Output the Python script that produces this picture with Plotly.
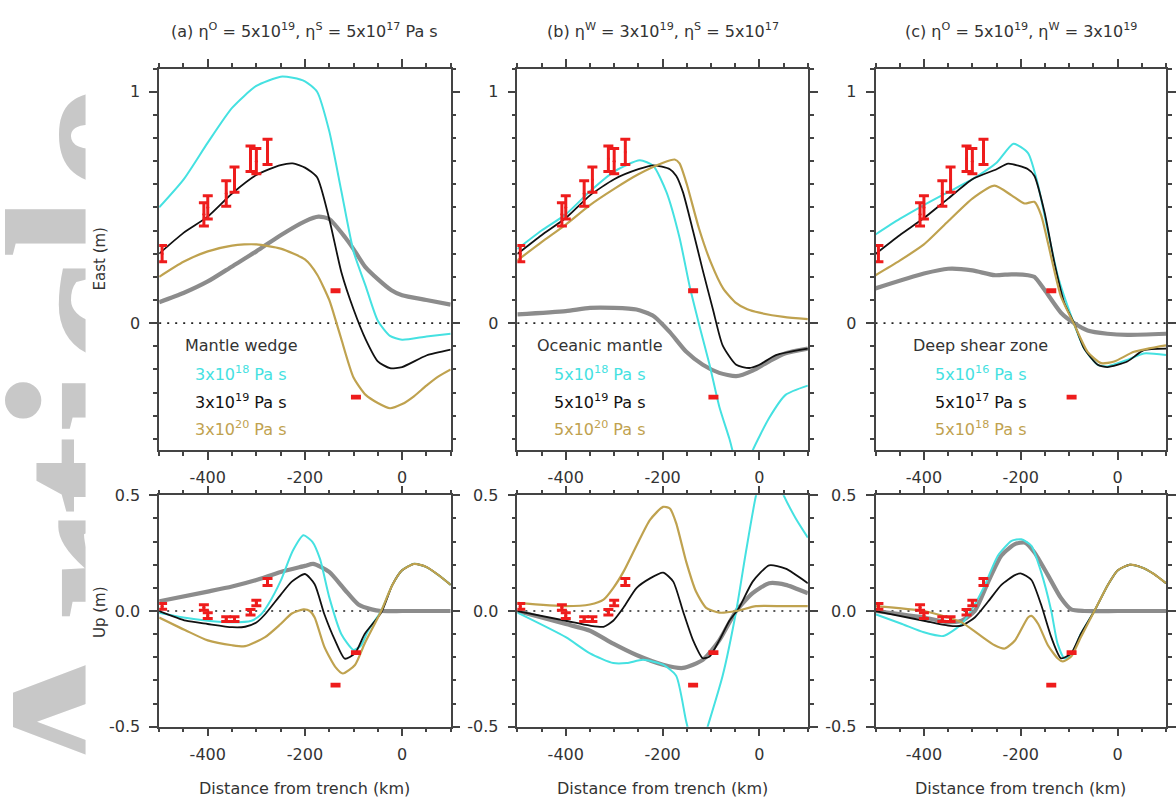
import plotly.graph_objects as go

W, H = 1176, 809

# ---------------- shared GPS observations ----------------
OBS_X        = [-494, -408, -400, -362, -345, -312, -300, -277, -137, -95]
OBS_EAST     = [0.30, 0.47, 0.50, 0.56, 0.62, 0.71, 0.70, 0.74, 0.14, -0.32]
OBS_EAST_ERR = [0.035, 0.05, 0.05, 0.055, 0.055, 0.055, 0.055, 0.055, 0.004, 0.004]
OBS_UP       = [0.02, 0.015, -0.02, -0.035, -0.035, -0.005, 0.035, 0.125, -0.32, -0.18]
OBS_UP_ERR   = [0.012, 0.012, 0.012, 0.01, 0.01, 0.012, 0.012, 0.015, 0.004, 0.004]

# ---------------- (a) mantle wedge : East ----------------
A_E_GREY_X = [-500, -450, -400, -350, -300, -250, -200, -172, -150, -117, -100, -76, -50, -22, 0, 50, 100]
A_E_GREY_Y = [0.09, 0.13, 0.18, 0.245, 0.31, 0.38, 0.44, 0.46, 0.45, 0.37, 0.32, 0.243, 0.19, 0.142, 0.12, 0.10, 0.08]
A_E_CYAN_X = [-500, -450, -400, -350, -300, -250, -225, -200, -175, -150, -125, -100, -75, -50, -25, 0, 50, 100]
A_E_CYAN_Y = [0.50, 0.62, 0.78, 0.93, 1.025, 1.065, 1.06, 1.045, 1.00, 0.83, 0.57, 0.31, 0.16, 0.01, -0.055, -0.072, -0.058, -0.046]
A_E_BLACK_X = [-500, -450, -400, -350, -300, -250, -225, -200, -175, -150, -125, -100, -75, -50, -25, 0, 50, 100]
A_E_BLACK_Y = [0.30, 0.39, 0.46, 0.56, 0.64, 0.683, 0.69, 0.672, 0.63, 0.45, 0.22, 0.06, -0.07, -0.165, -0.195, -0.19, -0.14, -0.115]
A_E_OLIVE_X = [-500, -450, -400, -350, -325, -300, -250, -200, -175, -150, -135, -125, -100, -75, -50, -25, 0, 25, 50, 75, 100]
A_E_OLIVE_Y = [0.20, 0.265, 0.31, 0.335, 0.34, 0.34, 0.322, 0.275, 0.21, 0.10, 0.0, -0.07, -0.235, -0.31, -0.345, -0.368, -0.35, -0.315, -0.27, -0.23, -0.20]

# ---------------- (a) mantle wedge : Up ----------------
A_U_GREY_X = [-500, -400, -350, -300, -250, -200, -183, -150, -118, -90, -63, -43, 0, 50, 100]
A_U_GREY_Y = [0.042, 0.084, 0.106, 0.134, 0.169, 0.195, 0.204, 0.169, 0.092, 0.028, 0.007, 0.0, 0.0, 0.0, 0.0]
A_U_CYAN_X = [-500, -450, -400, -350, -310, -290, -275, -250, -225, -203, -185, -169, -150, -125, -100, -85, -70, -43, -20, 0, 25, 50, 75, 100]
A_U_CYAN_Y = [-0.007, -0.028, -0.042, -0.049, -0.042, -0.014, 0.03, 0.13, 0.26, 0.327, 0.30, 0.225, 0.06, -0.10, -0.168, -0.15, -0.085, 0.0, 0.113, 0.176, 0.204, 0.19, 0.155, 0.113]
A_U_BLACK_X = [-500, -445, -400, -350, -323, -300, -282, -250, -227, -200, -180, -160, -138, -118, -97, -77, -43, -20, 0, 25, 50, 75, 100]
A_U_BLACK_Y = [0.0, -0.042, -0.056, -0.07, -0.068, -0.05, -0.014, 0.07, 0.127, 0.16, 0.116, -0.014, -0.127, -0.206, -0.183, -0.099, -0.007, 0.113, 0.176, 0.204, 0.19, 0.155, 0.113]
A_U_OLIVE_X = [-500, -445, -400, -350, -323, -282, -250, -227, -203, -190, -180, -160, -138, -122, -97, -77, -43, -20, 0, 25, 50, 75, 100]
A_U_OLIVE_Y = [-0.028, -0.084, -0.127, -0.148, -0.152, -0.113, -0.056, -0.011, 0.007, 0.0, -0.028, -0.155, -0.24, -0.27, -0.233, -0.14, 0.0, 0.113, 0.176, 0.204, 0.19, 0.155, 0.113]

# ---------------- (b) oceanic mantle : East ----------------
B_E_GREY_X = [-500, -400, -350, -300, -254, -219, -185, -151, -117, -83, -48, -14, 20, 54, 100]
B_E_GREY_Y = [0.038, 0.052, 0.066, 0.066, 0.059, 0.031, -0.039, -0.124, -0.18, -0.215, -0.229, -0.205, -0.165, -0.13, -0.11]
B_E_CYAN_X = [-500, -450, -400, -350, -300, -247, -219, -192, -165, -144, -124, -103, -83, -62, -45, -30, -14, 20, 54, 100]
B_E_CYAN_Y = [0.32, 0.40, 0.47, 0.57, 0.655, 0.704, 0.679, 0.566, 0.369, 0.158, -0.011, -0.18, -0.36, -0.50, -0.62, -0.64, -0.55, -0.41, -0.31, -0.27]
B_E_BLACK_X = [-500, -450, -400, -350, -300, -250, -219, -185, -172, -158, -137, -117, -96, -76, -48, -21, 0, 34, 100]
B_E_BLACK_Y = [0.299, 0.38, 0.454, 0.552, 0.622, 0.665, 0.682, 0.665, 0.637, 0.566, 0.397, 0.228, 0.059, -0.096, -0.18, -0.194, -0.18, -0.138, -0.11]
B_E_OLIVE_X = [-500, -450, -400, -350, -300, -250, -199, -175, -165, -150, -125, -100, -75, -50, -25, 0, 50, 100]
B_E_OLIVE_Y = [0.271, 0.35, 0.426, 0.51, 0.58, 0.643, 0.693, 0.707, 0.69, 0.60, 0.41, 0.26, 0.15, 0.09, 0.06, 0.045, 0.027, 0.017]

# ---------------- (b) oceanic mantle : Up ----------------
B_U_GREY_X = [-500, -400, -350, -302, -254, -199, -158, -117, -83, -48, -14, 20, 54, 100]
B_U_GREY_Y = [0.0, -0.056, -0.085, -0.141, -0.19, -0.232, -0.246, -0.211, -0.127, 0.0, 0.077, 0.12, 0.113, 0.077]
B_U_CYAN_X = [-500, -400, -350, -302, -274, -240, -199, -172, -151, -135, -125, -107, -76, -48, -28, -7, 10, 30, 50, 75, 100]
B_U_CYAN_Y = [-0.007, -0.113, -0.183, -0.225, -0.225, -0.211, -0.232, -0.28, -0.48, -0.60, -0.62, -0.50, -0.28, 0.0, 0.254, 0.50, 0.62, 0.60, 0.50, 0.40, 0.317]
B_U_BLACK_X = [-500, -400, -350, -322, -302, -281, -254, -226, -199, -178, -158, -137, -117, -103, -83, -62, -42, -14, 20, 54, 100]
B_U_BLACK_Y = [0.0, -0.042, -0.063, -0.068, -0.042, 0.014, 0.099, 0.141, 0.166, 0.127, 0.0, -0.127, -0.204, -0.197, -0.127, -0.042, 0.014, 0.127, 0.197, 0.183, 0.12]
B_U_OLIVE_X = [-500, -400, -350, -322, -302, -281, -254, -226, -199, -185, -172, -151, -131, -110, -83, -48, -7, 50, 100]
B_U_OLIVE_Y = [0.035, 0.021, 0.028, 0.049, 0.099, 0.169, 0.282, 0.394, 0.45, 0.443, 0.38, 0.211, 0.084, 0.014, -0.007, 0.0, 0.021, 0.021, 0.021]

# ---------------- (c) deep shear zone : East ----------------
C_E_GREY_X = [-500, -400, -350, -300, -254, -219, -185, -172, -151, -117, -90, -62, -21, 20, 100]
C_E_GREY_Y = [0.15, 0.214, 0.235, 0.228, 0.207, 0.211, 0.207, 0.20, 0.144, 0.045, 0.0, -0.032, -0.046, -0.051, -0.046]
C_E_CYAN_X = [-500, -450, -400, -350, -300, -250, -215, -185, -164, -144, -123, -96, -69, -41, -21, 20, 54, 100]
C_E_CYAN_Y = [0.383, 0.45, 0.51, 0.566, 0.622, 0.693, 0.775, 0.735, 0.594, 0.397, 0.20, 0.031, -0.11, -0.18, -0.187, -0.159, -0.131, -0.138]
C_E_BLACK_X = [-500, -450, -400, -350, -300, -250, -226, -185, -172, -151, -130, -110, -90, -69, -41, -21, 20, 54, 100]
C_E_BLACK_Y = [0.299, 0.38, 0.454, 0.538, 0.622, 0.665, 0.689, 0.665, 0.637, 0.48, 0.256, 0.087, 0.0, -0.11, -0.18, -0.19, -0.166, -0.117, -0.11]
C_E_OLIVE_X = [-500, -450, -400, -350, -300, -254, -219, -192, -172, -158, -137, -117, -90, -62, -34, -7, 34, 100]
C_E_OLIVE_Y = [0.207, 0.27, 0.34, 0.44, 0.538, 0.594, 0.552, 0.517, 0.524, 0.467, 0.284, 0.115, -0.004, -0.124, -0.173, -0.166, -0.124, -0.096]

# ---------------- (c) deep shear zone : Up ----------------
C_U_GREY_X = [-500, -400, -350, -322, -295, -267, -240, -212, -192, -172, -144, -117, -96, -69, 0, 100]
C_U_GREY_Y = [0.0, -0.028, -0.049, -0.042, 0.0, 0.127, 0.24, 0.289, 0.296, 0.254, 0.155, 0.056, 0.007, 0.0, 0.0, 0.0]
C_U_CYAN_X = [-500, -445, -400, -360, -322, -295, -274, -247, -219, -199, -178, -158, -137, -124, -110, -96, -76, -48, -20, 0, 25, 50, 75, 100]
C_U_CYAN_Y = [-0.014, -0.056, -0.092, -0.108, -0.056, 0.028, 0.113, 0.24, 0.303, 0.31, 0.282, 0.169, 0.0, -0.141, -0.204, -0.19, -0.099, 0.0, 0.113, 0.175, 0.20, 0.188, 0.16, 0.12]
C_U_BLACK_X = [-500, -400, -350, -322, -295, -267, -240, -212, -199, -178, -158, -137, -117, -96, -76, -48, -20, 0, 25, 50, 75, 100]
C_U_BLACK_Y = [0.0, -0.042, -0.063, -0.063, -0.028, 0.042, 0.113, 0.155, 0.162, 0.134, 0.028, -0.113, -0.204, -0.183, -0.099, 0.0, 0.113, 0.175, 0.20, 0.188, 0.16, 0.12]
C_U_OLIVE_X = [-500, -400, -350, -322, -288, -254, -233, -212, -185, -178, -164, -144, -124, -113, -96, -76, -48, -20, 0, 25, 50, 75, 100]
C_U_OLIVE_Y = [0.021, 0.0, -0.028, -0.049, -0.099, -0.148, -0.162, -0.127, -0.028, -0.021, -0.056, -0.148, -0.204, -0.218, -0.197, -0.113, 0.0, 0.113, 0.175, 0.20, 0.188, 0.16, 0.12]

# ---------------- tick labels ----------------
X_TICKVALS = [-400, -200, 0]
X_TICKTEXT = ["-400", "-200", "0"]
YTOP_TICKVALS = [0, 1]
YTOP_TICKTEXT = ["0", "1"]
YBOT_TICKVALS = [-0.5, 0.0, 0.5]
YBOT_TICKTEXT = ["-0.5", "0.0", "0.5"]

# ---------------- text ----------------
TITLES = [
    "(a) η<sup>O</sup> = 5x10<sup>19</sup>, η<sup>S</sup> = 5x10<sup>17</sup> Pa s",
    "(b) η<sup>W</sup> = 3x10<sup>19</sup>, η<sup>S</sup> = 5x10<sup>17</sup>",
    "(c) η<sup>O</sup> = 5x10<sup>19</sup>, η<sup>W</sup> = 3x10<sup>19</sup>",
]
LEGEND_HEADERS = ["Mantle wedge", "Oceanic mantle", "Deep shear zone"]
LEGEND_VALUES = [
    ["3x10<sup>18</sup> Pa s", "3x10<sup>19</sup> Pa s", "3x10<sup>20</sup> Pa s"],
    ["5x10<sup>18</sup> Pa s", "5x10<sup>19</sup> Pa s", "5x10<sup>20</sup> Pa s"],
    ["5x10<sup>16</sup> Pa s", "5x10<sup>17</sup> Pa s", "5x10<sup>18</sup> Pa s"],
]
X_TITLE = "Distance from trench (km)"
Y_TITLES = ["East (m)", "Up (m)"]
WATERMARK = "Article"

# ---------------- styling ----------------
GREY, CYAN, BLACK, OLIVE, RED = "#8c8c8c", "#45e1e1", "#111111", "#bfa24f", "#ee1c1c"
AX = "#444444"
TXT = "#333333"
FONT = "DejaVu Sans"
FS = 16

PANEL_X = [(160, 453), (520, 812), (880, 1172)]
TOP_Y = (61, 452)
BOT_Y = (498, 735)

curves = {
    1: [(A_E_GREY_X, A_E_GREY_Y), (A_E_CYAN_X, A_E_CYAN_Y), (A_E_BLACK_X, A_E_BLACK_Y), (A_E_OLIVE_X, A_E_OLIVE_Y)],
    2: [(B_E_GREY_X, B_E_GREY_Y), (B_E_CYAN_X, B_E_CYAN_Y), (B_E_BLACK_X, B_E_BLACK_Y), (B_E_OLIVE_X, B_E_OLIVE_Y)],
    3: [(C_E_GREY_X, C_E_GREY_Y), (C_E_CYAN_X, C_E_CYAN_Y), (C_E_BLACK_X, C_E_BLACK_Y), (C_E_OLIVE_X, C_E_OLIVE_Y)],
    4: [(A_U_GREY_X, A_U_GREY_Y), (A_U_CYAN_X, A_U_CYAN_Y), (A_U_BLACK_X, A_U_BLACK_Y), (A_U_OLIVE_X, A_U_OLIVE_Y)],
    5: [(B_U_GREY_X, B_U_GREY_Y), (B_U_CYAN_X, B_U_CYAN_Y), (B_U_BLACK_X, B_U_BLACK_Y), (B_U_OLIVE_X, B_U_OLIVE_Y)],
    6: [(C_U_GREY_X, C_U_GREY_Y), (C_U_CYAN_X, C_U_CYAN_Y), (C_U_BLACK_X, C_U_BLACK_Y), (C_U_OLIVE_X, C_U_OLIVE_Y)],
}
styles = [(GREY, 4.2), (CYAN, 2.0), (BLACK, 1.8), (OLIVE, 2.2)]

fig = go.Figure()


def ax_id(n):
    return "" if n == 1 else str(n)


for n in range(1, 7):
    xa, ya = "x" + ax_id(n), "y" + ax_id(n)
    for (xs, ys), (col, wid) in zip(curves[n], styles):
        fig.add_trace(go.Scatter(x=xs, y=ys, mode="lines", xaxis=xa, yaxis=ya,
                                 line=dict(color=col, width=wid, shape="spline", smoothing=0.6),
                                 showlegend=False, hoverinfo="skip"))
    is_top = n <= 3
    fig.add_trace(go.Scatter(
        x=OBS_X, y=OBS_EAST if is_top else OBS_UP, mode="markers", xaxis=xa, yaxis=ya,
        marker=dict(size=3, color=RED),
        error_y=dict(type="data", array=OBS_EAST_ERR if is_top else OBS_UP_ERR,
                     color=RED, thickness=3, width=5),
        showlegend=False))

layout = dict(width=W, height=H, margin=dict(l=0, r=0, t=0, b=0), autosize=False,
              paper_bgcolor="white", plot_bgcolor="white", showlegend=False,
              font=dict(family=FONT, size=FS, color=TXT))

common = dict(showline=True, linecolor=AX, linewidth=1.5, mirror="ticks",
              ticks="outside", ticklen=8, tickwidth=1.5, tickcolor=AX,
              showgrid=False, zeroline=False, tickmode="array",
              tickfont=dict(family=FONT, size=FS, color=TXT))

for n in range(1, 7):
    col = (n - 1) % 3
    is_top = n <= 3
    x0, x1 = PANEL_X[col]
    py0, py1 = TOP_Y if is_top else BOT_Y
    xaxis = dict(common, domain=[x0 / W, x1 / W], range=[-500, 100],
                 tickvals=X_TICKVALS, ticktext=X_TICKTEXT,
                 anchor="y" + ax_id(n), ticklabelstandoff=4,
                 minor=dict(tickmode="linear", dtick=50, tick0=0, ticks="outside", ticklen=4,
                            tickwidth=1.5, tickcolor=AX))
    if is_top:
        yaxis = dict(common, domain=[1 - py1 / H, 1 - py0 / H], range=[-0.55, 1.1],
                     tickvals=YTOP_TICKVALS, ticktext=YTOP_TICKTEXT,
                     anchor="x" + ax_id(n), ticklabelstandoff=6,
                     minor=dict(tickmode="linear", dtick=0.1, tick0=0, ticks="outside", ticklen=4,
                                tickwidth=1.5, tickcolor=AX))
    else:
        yaxis = dict(common, domain=[1 - py1 / H, 1 - py0 / H], range=[-0.5, 0.5],
                     tickvals=YBOT_TICKVALS, ticktext=YBOT_TICKTEXT,
                     anchor="x" + ax_id(n), ticklabelstandoff=6,
                     minor=dict(tickmode="linear", dtick=0.1, tick0=0, ticks="outside", ticklen=4,
                                tickwidth=1.5, tickcolor=AX))
    layout["xaxis" + ax_id(n)] = xaxis
    layout["yaxis" + ax_id(n)] = yaxis

fig.update_layout(**layout)

# watermark (only its left part is visible, the rest is masked)
fig.add_shape(type="rect", xref="paper", yref="paper",
              x0=64 / W, x1=66 / W, y0=1 - 445 / H, y1=1 - 441 / H,
              line=dict(width=0), fillcolor="rgba(0,0,0,0)", layer="below",
              label=dict(text="<b>" + WATERMARK + "</b>", textangle=-90, textposition="middle center",
                         font=dict(family="Liberation Serif", size=242, color="#c8c8c8")))
fig.add_shape(type="rect", xref="paper", yref="paper", x0=86 / W, x1=182 / W, y0=0, y1=1,
              fillcolor="white", line=dict(width=0), layer="below")

# dotted zero lines
for n in range(1, 7):
    fig.add_shape(type="line", xref="x" + ax_id(n) + " domain", yref="y" + ax_id(n),
                  x0=0, x1=1, y0=0, y1=0, layer="below",
                  line=dict(color="#222222", width=1.6, dash="2px,6px"))

ann = []
for col in range(3):
    x0, x1 = PANEL_X[col]
    cx = (x0 + x1) / 2 / W
    ann.append(dict(text=TITLES[col], x=cx, y=1 - 22 / H, xref="paper", yref="paper",
                    xanchor="center", yanchor="middle", showarrow=False,
                    font=dict(family=FONT, size=FS, color=TXT)))
    ann.append(dict(text=X_TITLE, x=cx, y=1 - 798 / H, xref="paper", yref="paper",
                    xanchor="center", yanchor="middle", showarrow=False,
                    font=dict(family=FONT, size=FS, color=TXT)))
    lx = [242, 603, 986][col] / W
    ann.append(dict(text=LEGEND_HEADERS[col], x=lx, y=1 - 345 / H, xref="paper", yref="paper",
                    xanchor="center", yanchor="middle", showarrow=False,
                    font=dict(family=FONT, size=FS, color="#333333")))
    for i, (txt, colr) in enumerate(zip(LEGEND_VALUES[col], [CYAN, BLACK, OLIVE])):
        ann.append(dict(text=txt, x=lx, y=1 - (373 + 28.5 * i) / H, xref="paper", yref="paper",
                        xanchor="center", yanchor="middle", showarrow=False,
                        font=dict(family=FONT, size=FS, color=colr)))

ann.append(dict(text=Y_TITLES[0], x=100 / W, y=1 - 256 / H, xref="paper", yref="paper",
                xanchor="center", yanchor="middle", textangle=-90, showarrow=False,
                font=dict(family=FONT, size=FS - 1, color=TXT)))
ann.append(dict(text=Y_TITLES[1], x=100 / W, y=1 - 617 / H, xref="paper", yref="paper",
                xanchor="center", yanchor="middle", textangle=-90, showarrow=False,
                font=dict(family=FONT, size=FS - 1, color=TXT)))
fig.update_layout(annotations=ann)

fig.write_html("out.html", config={"displayModeBar": False},
               post_script="document.body.style.margin='0px';")
